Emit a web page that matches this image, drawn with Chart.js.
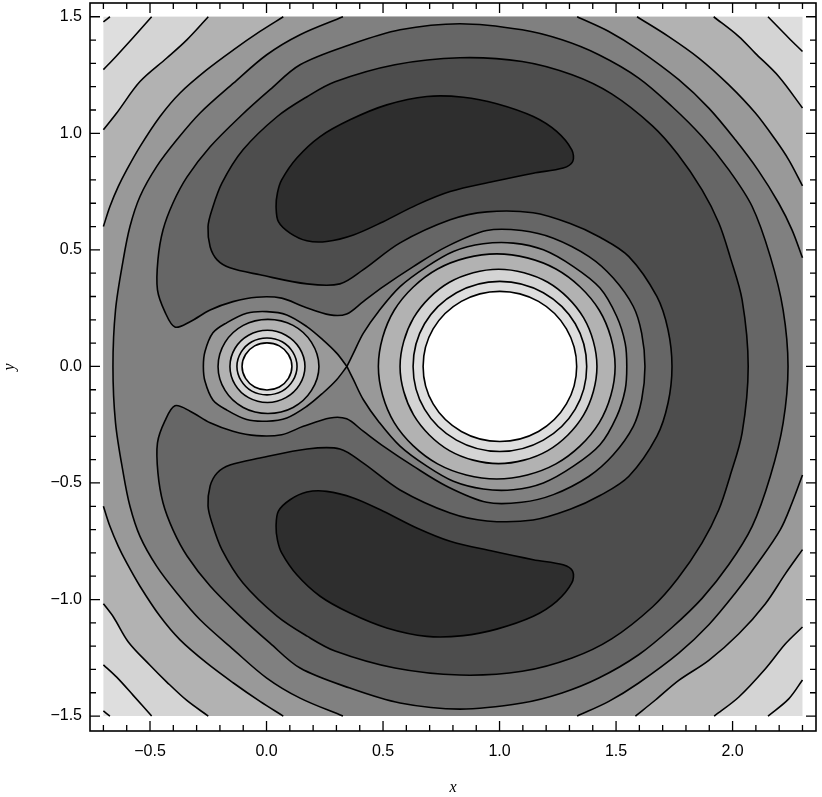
<!DOCTYPE html>
<html>
<head>
<meta charset="utf-8">
<title>Contour plot</title>
<script src="https://cdn.jsdelivr.net/npm/chart.js@4/dist/chart.umd.min.js"></script>
<style>
  body { margin: 0; background: #fff; }
  canvas { display: block; }
</style>
</head>
<body>
<canvas id="contourChart" width="822" height="797"></canvas>
<script>
// Axis ticks
const xMajorTicks = [-0.5, 0, 0.5, 1, 1.5, 2];
const xMinorTicks = [-0.7, -0.6, -0.4, -0.3, -0.2, -0.1, 0.1, 0.2, 0.3, 0.4, 0.6, 0.7, 0.8, 0.9, 1.1, 1.2, 1.3, 1.4, 1.6, 1.7, 1.8, 1.9, 2.1, 2.2, 2.3];
const yMajorTicks = [-1.5, -1, -0.5, 0, 0.5, 1, 1.5];
const yMinorTicks = [-1.4, -1.3, -1.2, -1.1, -0.9, -0.8, -0.7, -0.6, -0.4, -0.3, -0.2, -0.1, 0.1, 0.2, 0.3, 0.4, 0.6, 0.7, 0.8, 0.9, 1.1, 1.2, 1.3, 1.4];

// Plotted rectangle, corner to corner
const plotRect = [[-0.7, 1.5], [2.3, 1.5], [2.3, -1.5], [-0.7, -1.5], [-0.7, 1.5]];

// Level 1: only shows as two tiny ticks in the left corners
const level1TopLeft = [[-0.7, 1.478], [-0.672, 1.5]];
const level1BottomLeft = [[-0.672, -1.5], [-0.7, -1.478]];

// Levels 2-5 run off the plotted rectangle, listed clockwise
const level2TopLeft = [[-0.7, 1.273], [-0.643, 1.333], [-0.573, 1.41], [-0.493, 1.5]];
const level2TopRight = [[2.152, 1.5], [2.241, 1.409], [2.3, 1.351]];
const level2BottomRight = [[2.3, -1.345], [2.241, -1.426], [2.152, -1.5]];
const level2BottomLeft = [[-0.493, -1.5], [-0.573, -1.41], [-0.643, -1.333], [-0.7, -1.28]];

const level3TopLeft = [[-0.7, 1.015], [-0.643, 1.087], [-0.543, 1.222], [-0.428, 1.323], [-0.342, 1.401], [-0.25, 1.5]];
const level3TopRight = [[1.919, 1.5], [2.027, 1.415], [2.097, 1.344], [2.198, 1.244], [2.3, 1.109]];
const level3BottomRight = [[2.3, -1.118], [2.227, -1.19], [2.141, -1.297], [2.027, -1.418], [1.921, -1.5]];
const level3BottomLeft = [[-0.25, -1.5], [-0.342, -1.433], [-0.428, -1.354], [-0.5, -1.282], [-0.593, -1.182], [-0.657, -1.075], [-0.7, -1.018]];

const level4TopLeft = [[-0.7, 0.6], [-0.672, 0.686], [-0.636, 0.772], [-0.6, 0.843], [-0.543, 0.943], [-0.457, 1.072], [-0.371, 1.173], [-0.257, 1.272], [-0.142, 1.358], [-0.028, 1.437], [0.072, 1.5]];
const level4TopRight = [[1.59, 1.5], [1.726, 1.415], [1.855, 1.323], [1.984, 1.208], [2.098, 1.087], [2.184, 0.972], [2.241, 0.886], [2.3, 0.775]];
const level4BottomRight = [[2.3, -0.786], [2.227, -0.889], [2.141, -1.018], [2.027, -1.147], [1.898, -1.261], [1.769, -1.347], [1.669, -1.431], [1.583, -1.5]];
const level4BottomLeft = [[0.072, -1.5], [-0.028, -1.437], [-0.142, -1.358], [-0.257, -1.272], [-0.371, -1.173], [-0.457, -1.072], [-0.543, -0.943], [-0.6, -0.843], [-0.636, -0.772], [-0.672, -0.686], [-0.7, -0.6]];

const level5Left = [[0.328, -1.5], [0.144, -1.423], [0.001, -1.337], [-0.142, -1.215], [-0.285, -1.087], [-0.385, -0.972], [-0.471, -0.858], [-0.543, -0.729], [-0.586, -0.6], [-0.615, -0.457], [-0.648, -0.242], [-0.659, 0], [-0.648, 0.242], [-0.615, 0.457], [-0.586, 0.6], [-0.543, 0.729], [-0.471, 0.858], [-0.385, 0.972], [-0.285, 1.087], [-0.142, 1.215], [0.001, 1.337], [0.144, 1.423], [0.328, 1.5]];
const level5TopRight = [[1.333, 1.5], [1.469, 1.437], [1.597, 1.358], [1.769, 1.23], [1.898, 1.108], [2.012, 0.972], [2.11, 0.841], [2.198, 0.7], [2.255, 0.586], [2.3, 0.466]];
const level5BottomRight = [[2.3, -0.466], [2.255, -0.586], [2.205, -0.7], [2.11, -0.841], [2.012, -0.972], [1.898, -1.108], [1.769, -1.23], [1.597, -1.358], [1.469, -1.437], [1.333, -1.5]];

// Levels 6-7 are closed horseshoes around the two masses
const level6Loop = [[-0.393, 0.169], [-0.436, 0.234], [-0.468, 0.328], [-0.466, 0.457], [-0.444, 0.586], [-0.401, 0.702], [-0.341, 0.813], [-0.242, 0.942], [-0.114, 1.071], [0.015, 1.187], [0.144, 1.294], [0.358, 1.38], [0.573, 1.444], [0.83, 1.47], [1.097, 1.444], [1.268, 1.401], [1.426, 1.337], [1.597, 1.237], [1.74, 1.115], [1.869, 0.986], [1.984, 0.843], [2.084, 0.686], [2.162, 0.471], [2.217, 0.242], [2.238, 0],
  [2.217, -0.242], [2.162, -0.471], [2.084, -0.686], [1.984, -0.85], [1.869, -0.995], [1.74, -1.12], [1.597, -1.237], [1.426, -1.337], [1.268, -1.401], [1.097, -1.444], [0.83, -1.47], [0.573, -1.444], [0.358, -1.38], [0.144, -1.294], [0.015, -1.187], [-0.114, -1.071], [-0.242, -0.942], [-0.341, -0.813], [-0.401, -0.702], [-0.444, -0.586], [-0.466, -0.457], [-0.468, -0.328], [-0.436, -0.234], [-0.393, -0.169],
  [-0.328, -0.192], [-0.242, -0.242], [-0.144, -0.278], [-0.042, -0.297], [0.065, -0.293], [0.158, -0.257], [0.273, -0.221], [0.344, -0.225], [0.415, -0.278], [0.501, -0.342], [0.63, -0.428], [0.773, -0.514], [0.945, -0.583], [1.095, -0.583], [1.231, -0.55], [1.384, -0.471], [1.488, -0.379], [1.574, -0.257], [1.61, -0.142], [1.624, 0],
  [1.61, 0.142], [1.574, 0.257], [1.488, 0.379], [1.384, 0.471], [1.231, 0.55], [1.095, 0.583], [0.945, 0.583], [0.773, 0.514], [0.63, 0.428], [0.501, 0.342], [0.415, 0.278], [0.344, 0.225], [0.273, 0.221], [0.158, 0.257], [0.065, 0.293], [-0.042, 0.297], [-0.144, 0.278], [-0.242, 0.242], [-0.328, 0.192], [-0.393, 0.169]];

const level7Loop = [[-0.251, 0.599], [-0.234, 0.672], [-0.191, 0.787], [-0.101, 0.929], [0.045, 1.071], [0.174, 1.157], [0.294, 1.221], [0.551, 1.294], [0.83, 1.324], [1.097, 1.308], [1.311, 1.251], [1.481, 1.169], [1.656, 1.032], [1.764, 0.911], [1.869, 0.757], [1.941, 0.615], [1.989, 0.471], [2.041, 0.285], [2.067, 0],
  [2.041, -0.285], [1.989, -0.471], [1.941, -0.615], [1.869, -0.757], [1.764, -0.911], [1.656, -1.032], [1.481, -1.169], [1.311, -1.251], [1.097, -1.308], [0.83, -1.324], [0.551, -1.294], [0.294, -1.221], [0.174, -1.157], [0.045, -1.071], [-0.101, -0.929], [-0.191, -0.787], [-0.234, -0.672], [-0.251, -0.599],
  [-0.242, -0.513], [-0.212, -0.457], [-0.157, -0.423], [-0.028, -0.393], [0.174, -0.354], [0.315, -0.354], [0.414, -0.414], [0.573, -0.53], [0.788, -0.629], [0.946, -0.663], [1.144, -0.659], [1.303, -0.613], [1.431, -0.554], [1.555, -0.471], [1.675, -0.3], [1.723, -0.157], [1.74, 0],
  [1.723, 0.157], [1.675, 0.3], [1.555, 0.471], [1.431, 0.554], [1.303, 0.613], [1.144, 0.659], [0.946, 0.663], [0.788, 0.629], [0.573, 0.53], [0.414, 0.414], [0.315, 0.354], [0.174, 0.354], [-0.028, 0.393], [-0.157, 0.423], [-0.212, 0.457], [-0.242, 0.513], [-0.251, 0.599]];

// The two dark kidney shapes
const kidneyTop = [[0.041, 0.686], [0.047, 0.745], [0.065, 0.8], [0.13, 0.894], [0.23, 0.986], [0.358, 1.058], [0.516, 1.122], [0.688, 1.158], [0.845, 1.155], [0.988, 1.127], [1.145, 1.072], [1.245, 1.008], [1.31, 0.929], [1.314, 0.879], [1.273, 0.851], [1.145, 0.829], [0.973, 0.793], [0.788, 0.75], [0.645, 0.693], [0.501, 0.621], [0.373, 0.564], [0.258, 0.536], [0.173, 0.539], [0.101, 0.572], [0.051, 0.621], [0.041, 0.686]];
const kidneyBottom = [[0.041, -0.686], [0.047, -0.745], [0.065, -0.8], [0.13, -0.894], [0.23, -0.986], [0.358, -1.058], [0.516, -1.122], [0.688, -1.158], [0.845, -1.155], [0.988, -1.127], [1.145, -1.072], [1.245, -1.008], [1.31, -0.929], [1.314, -0.879], [1.273, -0.851], [1.145, -0.829], [0.973, -0.793], [0.788, -0.75], [0.645, -0.693], [0.501, -0.621], [0.373, -0.564], [0.258, -0.536], [0.173, -0.539], [0.101, -0.572], [0.051, -0.621], [0.041, -0.686]];

// Figure of eight through the saddle near x = 0.345
const lobeSmall = [[0.345, 0], [0.301, 0.057], [0.242, 0.114], [0.173, 0.171], [0.087, 0.221], [0.001, 0.235], [-0.085, 0.228], [-0.171, 0.187], [-0.23, 0.144], [-0.264, 0.064], [-0.271, 0], [-0.264, -0.064], [-0.23, -0.144], [-0.171, -0.187], [-0.085, -0.228], [0.001, -0.235], [0.087, -0.221], [0.173, -0.171], [0.242, -0.114], [0.301, -0.057], [0.345, 0]];
const lobeBig = [[0.345, 0], [0.373, 0.057], [0.415, 0.142], [0.48, 0.235], [0.573, 0.342], [0.688, 0.428], [0.802, 0.493], [0.93, 0.526], [1.059, 0.529], [1.188, 0.5], [1.317, 0.428], [1.431, 0.336], [1.503, 0.214], [1.539, 0.1], [1.546, 0], [1.539, -0.1], [1.503, -0.214], [1.431, -0.336], [1.317, -0.428], [1.188, -0.5], [1.059, -0.529], [0.93, -0.526], [0.802, -0.493], [0.688, -0.428], [0.573, -0.342], [0.48, -0.235], [0.415, -0.142], [0.373, -0.057], [0.345, 0]];

// Rings around the small mass at x = 0
const smallRing1 = [[0.225, 0], [0.193, 0.103], [0.114, 0.176], [0.006, 0.202], [-0.1, 0.176], [-0.178, 0.103], [-0.208, 0], [-0.178, -0.103], [-0.1, -0.176], [0.006, -0.202], [0.114, -0.176], [0.193, -0.103], [0.225, 0]];
const smallRing2 = [[0.165, 0], [0.142, 0.078], [0.083, 0.134], [0.004, 0.155], [-0.077, 0.134], [-0.135, 0.078], [-0.157, 0], [-0.135, -0.078], [-0.077, -0.134], [0.004, -0.155], [0.083, -0.134], [0.142, -0.078], [0.165, 0]];
const smallRing3 = [[0.131, 0], [0.113, 0.061], [0.067, 0.106], [0.002, 0.122], [-0.063, 0.106], [-0.109, 0.061], [-0.127, 0], [-0.109, -0.061], [-0.063, -0.106], [0.002, -0.122], [0.067, -0.106], [0.113, -0.061], [0.131, 0]];
const smallRing4 = [[0.109, 0], [0.094, 0.051], [0.055, 0.088], [0.002, 0.101], [-0.051, 0.088], [-0.09, 0.051], [-0.105, 0], [-0.09, -0.051], [-0.051, -0.088], [0.002, -0.101], [0.055, -0.088], [0.094, -0.051], [0.109, 0]];

// Rings around the big mass at x = 1
const bigRing1 = [[1.496, 0], [1.428, 0.241], [1.242, 0.418], [0.988, 0.483], [0.734, 0.418], [0.548, 0.241], [0.48, 0], [0.548, -0.241], [0.734, -0.418], [0.988, -0.483], [1.242, -0.418], [1.428, -0.241], [1.496, 0]];
const bigRing2 = [[1.418, 0], [1.361, 0.208], [1.207, 0.361], [0.996, 0.417], [0.785, 0.361], [0.631, 0.208], [0.573, 0], [0.631, -0.208], [0.785, -0.361], [0.996, -0.417], [1.207, -0.361], [1.361, -0.208], [1.418, 0]];
const bigRing3 = [[1.374, 0], [1.325, 0.183], [1.188, 0.316], [1.001, 0.365], [0.815, 0.316], [0.678, 0.183], [0.629, 0], [0.678, -0.183], [0.815, -0.316], [1.001, -0.365], [1.188, -0.316], [1.325, -0.183], [1.374, 0]];
const bigRing4 = [[1.331, 0], [1.287, 0.161], [1.167, 0.279], [1.001, 0.322], [0.836, 0.279], [0.715, 0.161], [0.672, 0], [0.715, -0.161], [0.836, -0.279], [1.001, -0.322], [1.167, -0.279], [1.287, -0.161], [1.331, 0]];

// Gray bands, painted from the outside in. Edge regions stay straight (tension 0)
const fillBands = [
  { points: plotRect, color: '#dedede', tension: 0 },
  { points: [...level2TopLeft, ...level2TopRight, ...level2BottomRight, ...level2BottomLeft], color: '#d4d4d4', tension: 0 },
  { points: [...level3TopLeft, ...level3TopRight, ...level3BottomRight, ...level3BottomLeft], color: '#b2b2b2', tension: 0 },
  { points: [...level4TopLeft, ...level4TopRight, ...level4BottomRight, ...level4BottomLeft], color: '#999999', tension: 0 },
  { points: [...level5Left, ...level5TopRight, ...level5BottomRight], color: '#808080', tension: 0 },
  { points: level6Loop, color: '#666666', tension: 0.33 },
  { points: level7Loop, color: '#4d4d4d', tension: 0.33 },
  { points: kidneyTop, color: '#2e2e2e', tension: 0.33 },
  { points: kidneyBottom, color: '#2e2e2e', tension: 0.33 },
  { points: lobeSmall, color: '#999999', tension: 0.33 },
  { points: lobeBig, color: '#999999', tension: 0.33 },
  { points: smallRing1, color: '#b2b2b2', tension: 0.33 },
  { points: smallRing2, color: '#d4d4d4', tension: 0.33 },
  { points: smallRing3, color: '#dedede', tension: 0.33 },
  { points: smallRing4, color: '#ffffff', tension: 0.33 },
  { points: bigRing1, color: '#b2b2b2', tension: 0.33 },
  { points: bigRing2, color: '#d4d4d4', tension: 0.33 },
  { points: bigRing3, color: '#dedede', tension: 0.33 },
  { points: bigRing4, color: '#ffffff', tension: 0.33 }
];

const openLines = [
  level1TopLeft, level1BottomLeft,
  level2TopLeft, level2TopRight, level2BottomRight, level2BottomLeft,
  level3TopLeft, level3TopRight, level3BottomRight, level3BottomLeft,
  level4TopLeft, level4TopRight, level4BottomRight, level4BottomLeft,
  level5Left, level5TopRight, level5BottomRight,
  lobeSmall, lobeBig
];
const closedLines = [
  level6Loop, level7Loop, kidneyTop, kidneyBottom,
  smallRing1, smallRing2, smallRing3, smallRing4,
  bigRing1, bigRing2, bigRing3, bigRing4
];

function toXY(points) {
  return points.map(p => ({ x: p[0], y: p[1] }));
}

// Runs one step past the join of a closed curve so the spline has no corner there
function wrapLoop(points) {
  return [points[points.length - 2], ...points, points[1]];
}

const lineColor = '#000000';
const lineWidth = 1.6;

const datasets = [];
fillBands.forEach(band => {
  const closed = closedLines.includes(band.points);
  datasets.push({
    data: toXY(closed ? wrapLoop(band.points) : band.points),
    showLine: true,
    fill: 'shape',
    backgroundColor: band.color,
    borderWidth: 0,
    pointRadius: 0,
    tension: band.tension
  });
});
openLines.forEach(points => {
  datasets.push({
    data: toXY(points),
    showLine: true,
    fill: false,
    borderColor: lineColor,
    borderWidth: lineWidth,
    pointRadius: 0,
    tension: 0.33
  });
});
closedLines.forEach(points => {
  const wrapped = wrapLoop(points);
  datasets.push({
    data: toXY(wrapped),
    showLine: true,
    fill: false,
    borderColor: lineColor,
    borderWidth: lineWidth,
    pointRadius: 0,
    tension: 0.33,
    // the two wrapped end pieces only shape the spline, they stay unseen
    segment: {
      borderColor: ctx => (ctx.p0DataIndex === 0 || ctx.p1DataIndex === wrapped.length - 1) ? 'rgba(0,0,0,0)' : undefined
    }
  });
});
// Chart.js paints high order first, so keep the list order
datasets.forEach((d, i) => { d.order = datasets.length - i; });

// Mathematica style frame with ticks pointing inward on all four sides
const frameTicks = {
  id: 'frameTicks',
  afterDatasetsDraw(chart) {
    const { ctx, chartArea: a, scales: { x, y } } = chart;
    ctx.save();
    ctx.strokeStyle = '#000000';
    ctx.lineWidth = 1.6;
    ctx.strokeRect(a.left, a.top, a.right - a.left, a.bottom - a.top);
    ctx.lineWidth = 1.3;
    const drawX = (values, len) => values.forEach(v => {
      const px = x.getPixelForValue(v);
      ctx.beginPath();
      ctx.moveTo(px, a.top);
      ctx.lineTo(px, a.top + len);
      ctx.moveTo(px, a.bottom);
      ctx.lineTo(px, a.bottom - len);
      ctx.stroke();
    });
    const drawY = (values, len) => values.forEach(v => {
      const py = y.getPixelForValue(v);
      ctx.beginPath();
      ctx.moveTo(a.left, py);
      ctx.lineTo(a.left + len, py);
      ctx.moveTo(a.right, py);
      ctx.lineTo(a.right - len, py);
      ctx.stroke();
    });
    drawX(xMajorTicks, 10);
    drawX(xMinorTicks, 6);
    drawY(yMajorTicks, 10);
    drawY(yMinorTicks, 6);
    ctx.restore();
  }
};

function tickLabel(value) {
  const text = Math.abs(value).toFixed(1);
  return value < 0 ? '\u2212' + text : text;
}

// Drop the room Chart.js keeps for half of the end labels
function fixBox(scale) {
  scale.paddingTop = 0;
  scale.paddingBottom = 0;
  scale.paddingLeft = 0;
  scale.paddingRight = 0;
}

new Chart(document.getElementById('contourChart'), {
  type: 'scatter',
  data: { datasets },
  plugins: [frameTicks],
  options: {
    responsive: false,
    animation: false,
    layout: { padding: { left: 0, right: 6, top: 3, bottom: 0 } },
    plugins: { legend: { display: false }, tooltip: { enabled: false } },
    scales: {
      x: {
        type: 'linear',
        min: -0.7575,
        max: 2.358,
        grid: { display: false, drawTicks: false },
        border: { display: false },
        afterFit(scale) { scale.height = 66; fixBox(scale); },
        afterBuildTicks(scale) { scale.ticks = xMajorTicks.map(v => ({ value: v })); },
        ticks: {
          autoSkip: false,
          maxRotation: 0,
          padding: 11,
          color: '#000000',
          font: { family: '"Liberation Sans"', size: 16 },
          callback: tickLabel
        },
        title: {
          display: true,
          text: 'x',
          color: '#000000',
          font: { family: '"Liberation Serif"', style: 'italic', size: 16 },
          padding: { top: 0, bottom: 0 }
        }
      },
      y: {
        type: 'linear',
        min: -1.564,
        max: 1.559,
        grid: { display: false, drawTicks: false },
        border: { display: false },
        afterFit(scale) { scale.width = 90; fixBox(scale); },
        afterBuildTicks(scale) { scale.ticks = yMajorTicks.map(v => ({ value: v })); },
        ticks: {
          autoSkip: false,
          padding: 8,
          color: '#000000',
          font: { family: '"Liberation Sans"', size: 16 },
          callback: tickLabel
        },
        title: {
          display: true,
          text: 'y',
          color: '#000000',
          font: { family: '"Liberation Serif"', style: 'italic', size: 16 },
          padding: { top: 0, bottom: 5 }
        }
      }
    }
  }
});
</script>
</body>
</html>
